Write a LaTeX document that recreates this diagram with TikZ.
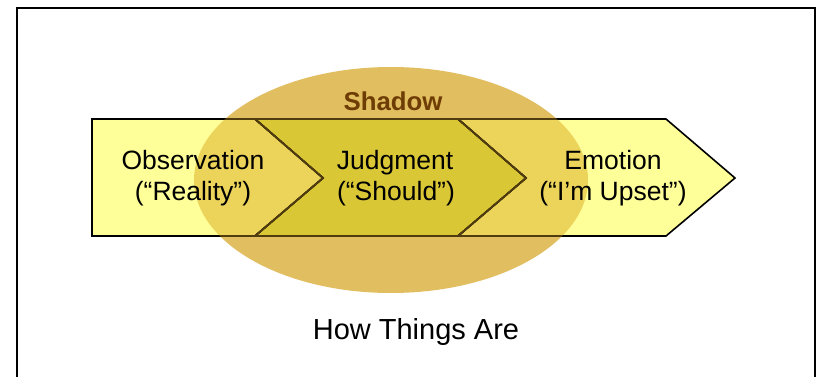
\documentclass[tikz,border=0pt]{standalone}
\usepackage{fontspec}
\setmainfont{Liberation Sans}
\definecolor{lightyel}{RGB}{255,255,153}
\definecolor{judgyel}{RGB}{218,199,54}
\definecolor{shadowcol}{RGB}{225,190,95}
\definecolor{shadowyel}{RGB}{236,212,90}
\definecolor{shadowline}{RGB}{80,60,15}
\definecolor{shadowtxt}{RGB}{110,60,5}
\begin{document}
\begin{tikzpicture}[x=1pt,y=-1pt,
  chev/.style={line width=1.6pt,line join=miter},
  lbl/.style={anchor=base,inner sep=0pt,font=\fontsize{26.5}{30}\selectfont}]
\useasboundingbox (0,0) rectangle (819,377);
\fill[white] (0,0) rectangle (819,377);
\draw[line width=2pt] (17,380) -- (17,8) -- (815,8) -- (815,380);
% shadow ellipse (background)
\fill[shadowcol] (391,180) ellipse [x radius=197, y radius=113];
% chevron paths
\def\obspath{(92,119) -- (255,119) -- (323,178) -- (255,236) -- (92,236) -- cycle}
\def\judpath{(255,119) -- (458,119) -- (526,178) -- (458,236) -- (255,236) -- (323,178) -- cycle}
\def\emopath{(458,119) -- (666,119) -- (735,178) -- (666,236) -- (458,236) -- (526,178) -- cycle}
\fill[lightyel] \obspath;
\fill[lightyel] \emopath;
\begin{scope}
  \clip (391,180) ellipse [x radius=197, y radius=113];
  \fill[shadowyel] \obspath;
  \fill[shadowyel] \emopath;
\end{scope}
\fill[judgyel] \judpath;
% outlines
\draw[chev] \obspath;
\draw[chev] \judpath;
\draw[chev] \emopath;
\begin{scope}
  \clip (391,180) ellipse [x radius=197, y radius=113];
  \draw[chev,shadowline] \obspath;
  \draw[chev,shadowline] \judpath;
  \draw[chev,shadowline] \emopath;
\end{scope}
% texts
\node[lbl,font=\fontsize{25.8}{30}\selectfont\bfseries,text=shadowtxt] (shadow) at (393,111) {Shadow};
\node[lbl] (obs1) at (193,169) {Observation};
\node[lbl] (obs2) at (193,200) {(“Reality”)};
\node[lbl] (jud1) at (395,169) {Judgment};
\node[lbl] (jud2) at (396,200) {(“Should”)};
\node[lbl] (emo1) at (613,169) {Emotion};
\node[lbl] (emo2) at (613,200) {(“I’m Upset”)};
\node[lbl,font=\fontsize{29}{32}\selectfont] (how) at (416,339) {How Things Are};
\end{tikzpicture}
\end{document}
